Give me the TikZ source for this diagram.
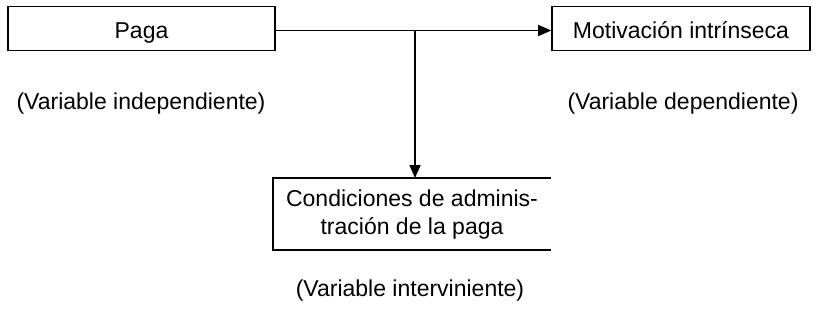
\documentclass[tikz,border=0pt]{standalone}
\usepackage{fontspec}
\setmainfont{Liberation Sans}
\usetikzlibrary{arrows.meta}
\begin{document}
\begin{tikzpicture}[x=1pt,y=-1pt,
  every node/.style={font=\fontsize{23}{28}\selectfont, inner sep=0pt},
  box/.style={draw, line width=1.6pt, minimum height=44pt, text height=20.5pt, text depth=0pt},
  conn/.style={line width=1.8pt, -{Triangle[length=13pt,width=11pt]}}]
\useasboundingbox (0,0) rectangle (816,329);
\node[box, minimum width=267pt] (paga) at (141.5,28.5) {Paga};
\node[box, minimum width=258pt] (motiv) at (681,28.5) {Motivación intrínseca};
\node[minimum width=278pt, minimum height=69pt, align=center] (cond) at (412,215) {Condiciones de adminis-\\tración de la paga};
\draw[line width=1.6pt] (cond.north east) ++(0,-2.5) -- ([yshift=2.5pt]cond.north west) -- ([yshift=-0.5pt]cond.south west) -- ++(278,0);
\node (vi) at (141,104) {(Variable independiente)};
\node (vd) at (683,104) {(Variable dependiente)};
\node (vint) at (410,291) {(Variable interviniente)};
\draw[conn] ([yshift=-2pt]paga.east) -- ([yshift=-2pt]motiv.west);
\coordinate (br) at (415,30.5);
\draw[conn] (br) -- (415,178) coordinate (cin);
\end{tikzpicture}
\end{document}
